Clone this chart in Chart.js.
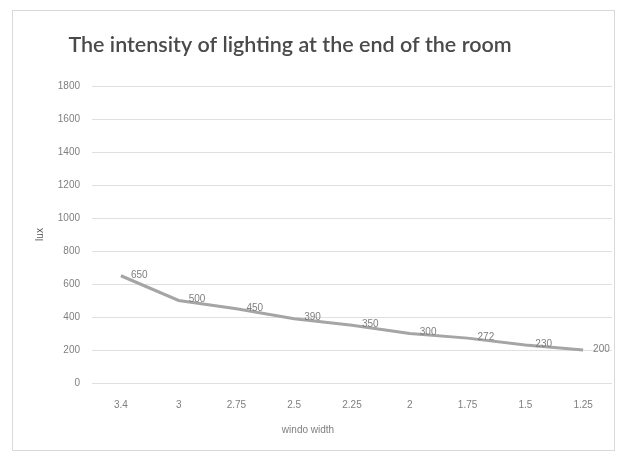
<!DOCTYPE html>
<html lang="en">
<head>
  <meta charset="UTF-8">
  <title>Lighting intensity</title>
  <script src="https://cdn.jsdelivr.net/npm/chart.js"></script>
  <style>
    body {
      margin: 0;
      padding: 0;
      background: #fff;
    }
    .wrap {
      position: relative;
      width: 630px;
      height: 461px;
    }
    .frame {
      position: absolute;
      left: 12px;
      top: 10px;
      width: 601px;
      height: 439px;
      border: 1px solid #d9d9d9;
    }
    canvas {
      position: absolute;
      left: 0;
      top: 0;
    }
  </style>
</head>
<body>
  <div class="wrap">
    <div class="frame"></div>
    <canvas id="chart" width="630" height="461"></canvas>
  </div>

  <script>
    const chartTitle = "The intensity of lighting at the end of the room";
    const xTitle = "windo width";
    const yTitle = "lux";
    const widths = ["3.4", "3", "2.75", "2.5", "2.25", "2", "1.75", "1.5", "1.25"];
    const luxValues = [650, 500, 450, 390, 350, 300, 272, 230, 200];
    const yTicks = [0, 200, 400, 600, 800, 1000, 1200, 1400, 1600, 1800];

    // titles and point labels, drawn the way the spreadsheet did
    const textPlugin = {
      id: "texts",
      afterDatasetsDraw(chart) {
        const ctx = chart.ctx;
        const meta = chart.getDatasetMeta(0);
        ctx.save();
        ctx.font = "10px 'Liberation Sans'";
        ctx.fillStyle = "#7f7f7f";
        ctx.textAlign = "left";
        ctx.textBaseline = "middle";
        meta.data.forEach((pt, i) => {
          ctx.fillText(luxValues[i], pt.x + 10, pt.y - 1);
        });
        ctx.restore();
      },
      afterDraw(chart) {
        const ctx = chart.ctx;
        ctx.save();
        ctx.textAlign = "center";
        ctx.textBaseline = "middle";
        ctx.fillStyle = "#4a4a4a";
        ctx.font = "600 21.5px Lato";
        ctx.fillText(chartTitle, 290, 45);
        ctx.fillStyle = "#7f7f7f";
        ctx.font = "10px 'Liberation Sans'";
        ctx.fillText(xTitle, 308, 430);
        ctx.restore();
      }
    };

    new Chart(document.getElementById("chart"), {
      type: "line",
      data: {
        labels: widths,
        datasets: [{
          data: luxValues,
          borderColor: "#a5a5a5",
          borderWidth: 3,
          pointRadius: 0,
          tension: 0,
          fill: false
        }]
      },
      options: {
        responsive: false,
        animation: false,
        devicePixelRatio: 1,
        layout: {
          padding: { top: 86, right: 18, bottom: 50, left: 0 }
        },
        plugins: {
          legend: { display: false },
          title: { display: false },
          tooltip: { enabled: false }
        },
        scales: {
          x: {
            offset: true,
            afterFit(scale) {
              scale.height = 28;
            },
            grid: { display: false, drawTicks: false },
            border: { display: false },
            ticks: {
              color: "#7f7f7f",
              font: { family: "Liberation Sans", size: 10 },
              padding: 16,
              maxRotation: 0,
              autoSkip: false
            }
          },
          y: {
            min: 0,
            max: 1800,
            afterBuildTicks(scale) {
              scale.ticks = yTicks.map(v => ({ value: v }));
            },
            afterFit(scale) {
              scale.width = 92;
            },
            grid: {
              color: "#e0e0e0",
              lineWidth: 1,
              drawTicks: false
            },
            border: { display: false },
            ticks: {
              color: "#7f7f7f",
              font: { family: "Liberation Sans", size: 10 },
              padding: 12,
              callback: v => String(v)
            },
            title: {
              display: true,
              text: yTitle,
              color: "#595959",
              font: { family: "Liberation Sans", size: 10 },
              padding: { top: 34, bottom: 0 }
            }
          }
        }
      },
      plugins: [textPlugin]
    });
  </script>
</body>
</html>
